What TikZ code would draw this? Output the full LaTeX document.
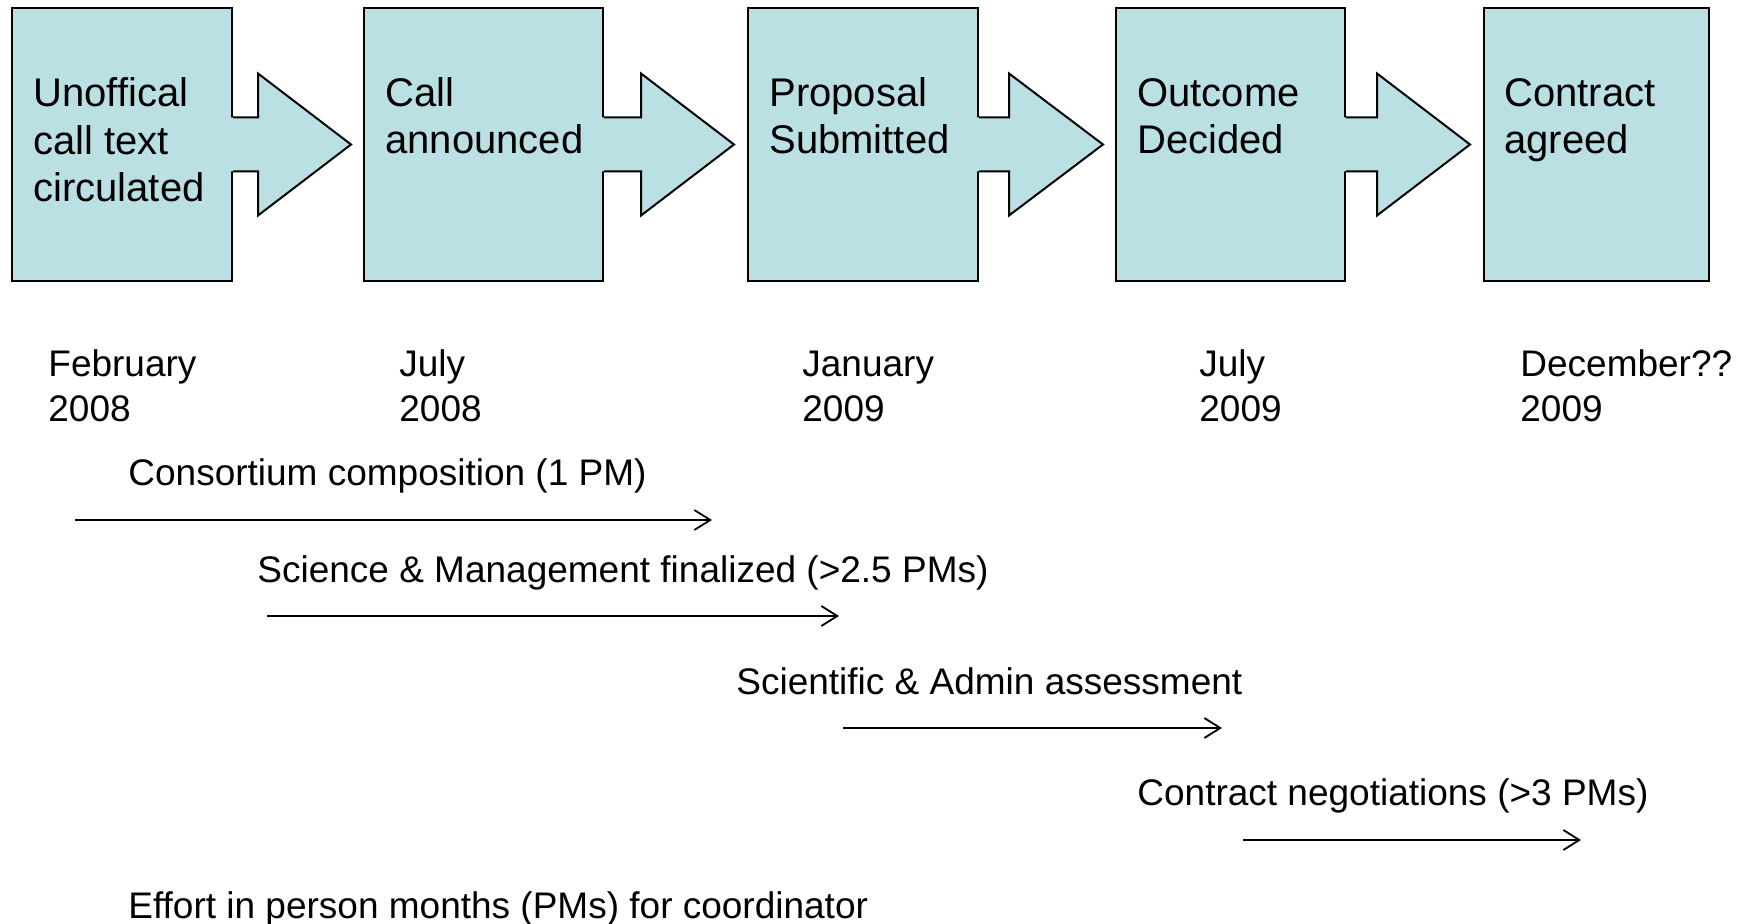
\documentclass[tikz,border=0pt]{standalone}
\usepackage{fontspec}
\setmainfont{Liberation Sans}
\usetikzlibrary{arrows.meta}
\definecolor{stageblue}{RGB}{187,224,227}
\tikzset{
  stagebox/.style={draw=black, fill=stageblue, line width=1pt, inner sep=0pt, anchor=north west, minimum height=136.5pt},
  stagetext/.style={anchor=base west, inner sep=0pt, align=left, font=\fontsize{20}{23.75}\selectfont},
  datetext/.style={anchor=base west, inner sep=0pt, align=left, font=\fontsize{18.5}{22.5}\selectfont},
  tasktext/.style={anchor=base west, inner sep=0pt, font=\fontsize{18.5}{22}\selectfont},
  span/.style={line width=0.9pt, -{Straight Barb[length=8pt,width=10pt]}},
}
\begin{document}
\begin{tikzpicture}[x=0.5pt,y=-0.5pt]
  \useasboundingbox (0,0) rectangle (1749,924);
  % stages
  \node[stagebox, minimum width=110pt] (unofficial) at (11,7) {};
  \node[stagebox, minimum width=119.5pt] (announced) at (363,7) {};
  \node[stagebox, minimum width=115pt] (submitted) at (747,7) {};
  \node[stagebox, minimum width=114.5pt] (decided) at (1115,7) {};
  \node[stagebox, minimum width=112.5pt] (agreed) at (1483,7) {};
  % block arrows
  \foreach \s/\b/\t in {unofficial/25/118, announced/37/130, submitted/30/124, decided/31/124}{
    \fill[stageblue] ([xshift=-1pt]\s.east) ++(0,-27) -- ++({\b+2},0) -- ++(0,-44) -- ++({\t-\b},71)
      -- ++({\b-\t},71) -- ++(0,-44) -- ++({-\b-2},0) -- cycle;
    \draw[line width=1pt] (\s.east) ++(0,-27) -- ++(\b,0) -- ++(0,-44) -- ++({\t-\b},71)
      -- ++({\b-\t},71) -- ++(0,-44) -- ++(-\b,0);
  }
  % base anchor = last line
  \node[stagetext] (unofficial-txt) at (33,202) {Unoffical\\call text\\circulated};
  \node[stagetext] (announced-txt) at (385,154) {Call\\announced};
  \node[stagetext] (submitted-txt) at (769,154) {Proposal\\Submitted};
  \node[stagetext] (decided-txt) at (1137,154) {Outcome\\Decided};
  \node[stagetext] (agreed-txt) at (1504,154) {Contract\\agreed};
  % dates
  \foreach \n/\x/\m/\y in {feb08/48/February/2008, jul08/399/July/2008, jan09/802/January/2009,
    jul09/1199/July/2009, dec09/1520/December??/2009}
    \node[datetext] (\n) at (\x,422) {\m\\\y};
  % tasks
  \node[tasktext] (consortium) at (128,486) {Consortium composition (1 PM)};
  \coordinate (consortium-a) at (75,520);
  \coordinate (consortium-b) at (712,520);
  \draw[span] (consortium-a) -- (consortium-b);
  \node[tasktext] (science) at (257,582) {Science \& Management finalized (>2.5 PMs)};
  \coordinate (science-a) at (267,616);
  \coordinate (science-b) at (839,616);
  \draw[span] (science-a) -- (science-b);
  \node[tasktext] (assessment) at (736,694) {Scientific \& Admin assessment};
  \coordinate (assessment-a) at (843,728);
  \coordinate (assessment-b) at (1222,728);
  \draw[span] (assessment-a) -- (assessment-b);
  \node[tasktext] (negotiation) at (1137,805) {Contract negotiations (>3 PMs)};
  \coordinate (negotiation-a) at (1243,840);
  \coordinate (negotiation-b) at (1581,840);
  \draw[span] (negotiation-a) -- (negotiation-b);
  \node[tasktext] (effort) at (128,918) {Effort in person months (PMs) for coordinator};
\end{tikzpicture}
\end{document}
